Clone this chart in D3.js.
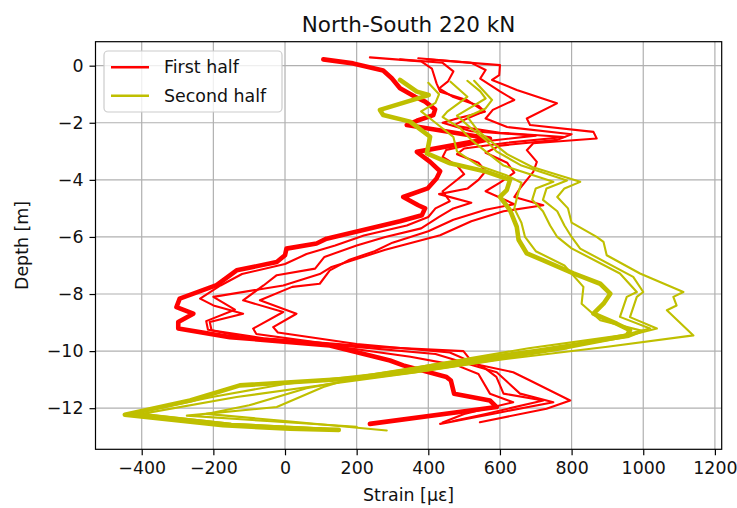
<!DOCTYPE html>
<html>
<head>
<meta charset="utf-8">
<script src="https://cdn.jsdelivr.net/npm/d3@7"></script>
<style>
  body { margin: 0; background: #fff; }
  svg { display: block; font-family: "DejaVu Sans", sans-serif; }
</style>
</head>
<body>
<svg id="chart" width="737" height="508"></svg>
<script>
// Strain profiles along the pile, [strain (µε), depth (m)]
const xTicks = [-400, -200, 0, 200, 400, 600, 800, 1000, 1200];
const yTicks = [0, -2, -4, -6, -8, -10, -12];
const strainLimits = [-529, 1219];
const depthLimits = [-13.44, 0.84];
const seriesNames = ["First half", "Second half"];

// First half of the load cycles (red); the first profile is a dense bundle of repeats
const firstHalfBundle = [[107,0.22],[190,0.08],[274,-0.17],[298,-0.44],[321,-0.79],[363,-1.09],[391,-1.26],[419,-1.53],[414,-1.73],[368,-1.93],[340,-2.08],[572,-2.55],[368,-3.02],[405,-3.37],[433,-3.7],[423,-3.95],[398,-4.3],[330,-4.6],[372,-4.89],[391,-5.0],[382,-5.24],[321,-5.45],[116,-6.06],[88,-6.23],[4,-6.41],[0,-6.64],[-23,-6.88],[-135,-7.17],[-173,-7.52],[-191,-7.69],[-294,-8.16],[-303,-8.46],[-256,-8.69],[-298,-8.98],[-298,-9.21],[-154,-9.51],[125,-9.8],[293,-10.33],[330,-10.5],[451,-10.91],[463,-11.03],[472,-11.49],[572,-11.73],[591,-11.96],[237,-12.55]];
const firstHalf2 = [[396,0.22],[600,0.02],[598,-0.33],[578,-0.5],[647,-0.85],[759,-1.32],[675,-1.85],[684,-2.08],[861,-2.32],[870,-2.55],[693,-2.72],[675,-2.96],[703,-3.37],[693,-3.72],[656,-4.3],[640,-4.6],[721,-4.89],[610,-5.1],[520,-5.45],[433,-5.94],[280,-6.45],[130,-7.05],[97,-7.3],[-5,-7.7],[-200,-8.1],[-140,-8.55],[-220,-8.95],[-215,-9.25],[-60,-9.55],[250,-9.85],[498,-10.0],[526,-10.44],[637,-10.74],[684,-11.03],[796,-11.73],[730,-12.02],[544,-12.49]];
const firstHalf3 = [[372,0.26],[520,0.1],[560,-0.15],[545,-0.45],[600,-0.9],[640,-1.2],[580,-1.55],[560,-1.85],[620,-2.15],[800,-2.4],[760,-2.6],[600,-2.8],[560,-3.05],[620,-3.4],[640,-3.75],[600,-4.1],[560,-4.4],[640,-4.85],[560,-5.05],[470,-5.4],[400,-5.8],[300,-6.2],[250,-6.5],[180,-6.8],[125,-7.17],[97,-7.64],[20,-7.75],[-70,-8.22],[32,-8.69],[-33,-9.16],[-20,-9.35],[200,-9.75],[460,-10.05],[554,-10.56],[590,-10.9],[610,-11.49],[721,-11.73],[560,-12.2],[470,-12.45]];
const firstHalf4 = [[321,0.22],[440,0.1],[470,-0.2],[455,-0.55],[430,-0.8],[470,-1.1],[540,-1.4],[556,-1.6],[500,-1.9],[470,-2.1],[600,-2.35],[780,-2.5],[620,-2.7],[500,-2.9],[480,-3.1],[540,-3.4],[560,-3.7],[540,-4.0],[510,-4.3],[430,-4.5],[520,-4.8],[470,-5.0],[430,-5.3],[380,-5.7],[280,-6.0],[200,-6.3],[110,-6.7],[84,-7.11],[-23,-7.34],[-60,-7.7],[-117,-8.22],[-5,-8.63],[-89,-9.21],[-80,-9.4],[150,-9.8],[420,-10.1],[526,-10.5],[591,-10.74],[656,-11.49],[749,-11.79],[600,-12.15],[433,-12.55]];
const firstHalf5 = [[237,0.29],[380,0.15],[410,-0.1],[423,-0.62],[433,-0.91],[507,-1.2],[558,-1.61],[480,-1.85],[440,-2.0],[520,-2.3],[700,-2.45],[560,-2.65],[450,-2.95],[440,-3.2],[480,-3.5],[500,-3.8],[470,-4.1],[440,-4.4],[460,-4.75],[420,-5.0],[400,-5.3],[340,-5.6],[220,-5.95],[140,-6.3],[60,-6.6],[0,-6.95],[-120,-7.3],[-180,-7.7],[-237,-8.16],[-200,-8.4],[-117,-8.69],[-210,-8.98],[-205,-9.27],[-120,-9.5],[150,-9.85],[350,-10.2],[480,-10.5],[540,-10.8],[572,-11.49],[637,-11.79],[500,-12.2],[440,-12.5]];

// Second half of the load cycles (olive)
const secondHalfBundle = [[321,-0.5],[368,-0.91],[401,-1.03],[265,-1.55],[274,-1.73],[349,-1.96],[405,-2.49],[396,-3.07],[461,-3.42],[563,-3.72],[628,-4.0],[619,-4.36],[600,-4.6],[628,-5.06],[647,-5.65],[652,-6.1],[675,-6.58],[721,-6.82],[805,-7.28],[880,-7.64],[908,-7.99],[889,-8.34],[861,-8.69],[926,-9.04],[963,-9.27],[954,-9.45],[787,-9.86],[554,-10.33],[363,-10.7],[200,-10.95],[-126,-11.2],[-265,-11.73],[-447,-12.23],[-173,-12.6],[14,-12.72],[150,-12.76]];
const secondHalf2 = [[528,-0.53],[578,-1.2],[560,-1.5],[509,-1.79],[540,-2.3],[580,-2.7],[620,-3.1],[690,-3.55],[824,-4.07],[780,-4.3],[760,-4.6],[790,-5.0],[800,-5.5],[870,-6.0],[889,-6.17],[898,-6.64],[991,-7.28],[1112,-7.93],[1084,-8.1],[1093,-8.4],[1066,-8.57],[1140,-9.45],[900,-9.85],[600,-10.3],[363,-10.75],[125,-11.15],[-135,-11.61],[-400,-12.2],[-150,-12.55],[100,-12.7]];
const secondHalf3 = [[509,-0.53],[545,-0.9],[560,-1.15],[520,-1.45],[480,-1.75],[520,-2.2],[560,-2.6],[590,-3.0],[660,-3.5],[787,-4.02],[730,-4.3],[720,-4.7],[760,-5.1],[780,-5.6],[800,-6.0],[824,-6.41],[972,-7.4],[1000,-7.93],[982,-8.1],[963,-8.81],[1038,-9.21],[960,-9.45],[700,-9.95],[450,-10.4],[200,-10.9],[107,-11.26],[-23,-11.96],[-274,-12.26],[-50,-12.45],[200,-12.65]];
const secondHalf4 = [[462,-0.56],[509,-1.09],[453,-1.61],[440,-1.8],[490,-2.2],[520,-2.6],[560,-3.0],[610,-3.5],[749,-4.07],[700,-4.3],[690,-4.7],[720,-5.1],[740,-5.6],[760,-6.0],[800,-6.4],[935,-7.28],[982,-7.93],[954,-8.1],[935,-8.8],[1019,-9.21],[940,-9.45],[680,-9.9],[420,-10.45],[250,-10.85],[60,-11.3],[-100,-11.9],[-220,-12.2],[0,-12.45],[284,-12.78]];
const secondHalf5 = [[400,-0.6],[430,-1.0],[420,-1.3],[380,-1.6],[420,-2.0],[470,-2.5],[480,-3.0],[540,-3.5],[620,-3.85],[660,-4.1],[650,-4.5],[640,-5.0],[660,-5.5],[670,-6.0],[700,-6.5],[780,-7.0],[833,-7.75],[828,-8.34],[880,-8.92],[1000,-9.3],[960,-9.5],[750,-9.9],[500,-10.35],[250,-10.8],[0,-11.15],[-200,-11.6],[-420,-12.18],[-150,-12.55],[120,-12.72]];

const firstHalf = [firstHalfBundle, firstHalf2, firstHalf3, firstHalf4, firstHalf5];
const secondHalf = [secondHalfBundle, secondHalf2, secondHalf3, secondHalf4, secondHalf5];

// ---- layout ----
const svg = d3.select("#chart");
const frame = { left: 95.5, right: 721.7, top: 41.7, bottom: 449.3 };
const RED = "#ff0000", OLIVE = "#bfbf00", GRID = "#b0b0b0";
const FONT = 17.4;

const x = d3.scaleLinear().domain(strainLimits).range([frame.left, frame.right]);
const y = d3.scaleLinear().domain(depthLimits).range([frame.bottom, frame.top]);

svg.append("rect").attr("width", 737).attr("height", 508).attr("fill", "#fff");

svg.append("defs").append("clipPath").attr("id", "plotClip")
  .append("rect")
  .attr("x", frame.left).attr("y", frame.top)
  .attr("width", frame.right - frame.left).attr("height", frame.bottom - frame.top);

// grid
const grid = svg.append("g");
grid.selectAll("line.gx").data(xTicks).join("line")
  .attr("x1", d => x(d)).attr("x2", d => x(d))
  .attr("y1", frame.top).attr("y2", frame.bottom)
  .attr("stroke", GRID).attr("stroke-width", 1.2);
grid.selectAll("line.gy").data(yTicks).join("line")
  .attr("y1", d => y(d)).attr("y2", d => y(d))
  .attr("x1", frame.left).attr("x2", frame.right)
  .attr("stroke", GRID).attr("stroke-width", 1.2);

// profiles
const line = d3.line().x(d => x(d[0])).y(d => y(d[1]));
const plot = svg.append("g").attr("clip-path", "url(#plotClip)");
function drawGroup(curves, color) {
  plot.append("g").selectAll("path").data(curves).join("path")
    .attr("d", line)
    .attr("fill", "none")
    .attr("stroke", color)
    .attr("stroke-width", (d, i) => i === 0 ? 4.6 : 2.1)
    .attr("stroke-linejoin", "round")
    .attr("stroke-linecap", "round");
}
drawGroup(firstHalf, RED);
drawGroup(secondHalf, OLIVE);

// axes
const fmt = d3.format("d");
const xAxis = svg.append("g").attr("transform", `translate(0,${frame.bottom})`)
  .call(d3.axisBottom(x).tickValues(xTicks).tickFormat(fmt).tickSize(6).tickPadding(6).tickSizeOuter(0));
const yAxis = svg.append("g").attr("transform", `translate(${frame.left},0)`)
  .call(d3.axisLeft(y).tickValues(yTicks).tickFormat(fmt).tickSize(6).tickPadding(6).tickSizeOuter(0));
[xAxis, yAxis].forEach(g => {
  g.attr("font-family", "DejaVu Sans, sans-serif").attr("font-size", FONT);
  g.select(".domain").remove();
  g.selectAll(".tick line").attr("stroke", "#000").attr("stroke-width", 1.2);
  g.selectAll(".tick text").attr("fill", "#111");
});

// frame
svg.append("rect")
  .attr("x", frame.left).attr("y", frame.top)
  .attr("width", frame.right - frame.left).attr("height", frame.bottom - frame.top)
  .attr("fill", "none").attr("stroke", "#000").attr("stroke-width", 1.2);

// labels
svg.append("text").attr("x", (frame.left + frame.right) / 2).attr("y", 31.5)
  .attr("text-anchor", "middle").attr("font-size", 21.5).attr("fill", "#111")
  .text("North-South 220 kN");
svg.append("text").attr("x", (frame.left + frame.right) / 2).attr("y", 501)
  .attr("text-anchor", "middle").attr("font-size", FONT).attr("fill", "#111")
  .text("Strain [µε]");
svg.append("text")
  .attr("transform", `translate(27.7,${(frame.top + frame.bottom) / 2}) rotate(-90)`)
  .attr("text-anchor", "middle").attr("font-size", FONT).attr("fill", "#111")
  .text("Depth [m]");

// legend
const legend = svg.append("g");
legend.append("rect").attr("x", 104).attr("y", 51).attr("width", 178).attr("height", 61)
  .attr("rx", 4).attr("fill", "#fff").attr("fill-opacity", 0.8)
  .attr("stroke", "#cccccc").attr("stroke-width", 1.2);
const entries = legend.selectAll("g.entry").data(seriesNames).join("g")
  .attr("transform", (d, i) => `translate(0,${67.3 + i * 28.4})`);
entries.append("line").attr("x1", 111).attr("x2", 149).attr("y1", 0).attr("y2", 0)
  .attr("stroke", (d, i) => i === 0 ? RED : OLIVE).attr("stroke-width", 2.6);
entries.append("text").attr("x", 164).attr("y", 0).attr("dy", "0.35em")
  .attr("font-size", FONT).attr("fill", "#111").text(d => d);
</script>
</body>
</html>
